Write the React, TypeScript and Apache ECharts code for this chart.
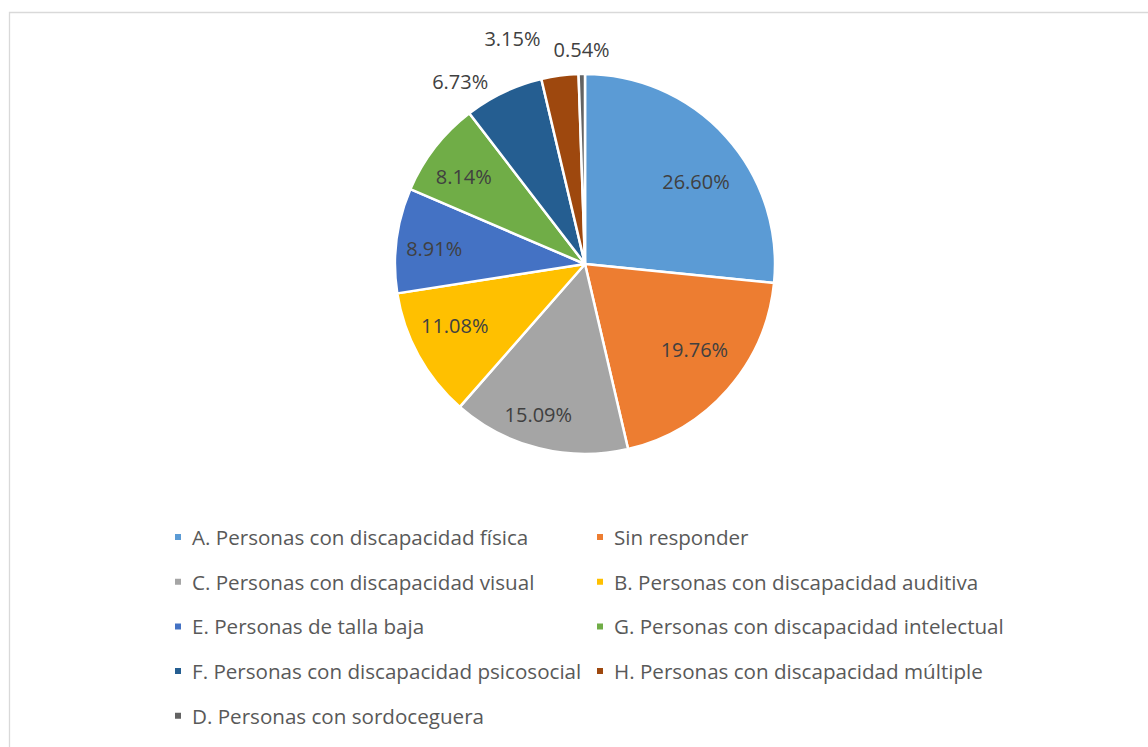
import React, { useEffect, useRef } from "react";
import * as echarts from "echarts";

const categories = [
  "A. Personas con discapacidad física",
  "Sin responder",
  "C. Personas con discapacidad visual",
  "B. Personas con discapacidad auditiva",
  "E. Personas de talla baja",
  "G. Personas con discapacidad intelectual",
  "F. Personas con discapacidad psicosocial",
  "H. Personas con discapacidad múltiple",
  "D. Personas con sordoceguera",
];
const shares = [26.6, 19.76, 15.09, 11.08, 8.91, 8.14, 6.73, 3.15, 0.54];
const colors = ["#5B9BD5", "#ED7D31", "#A5A5A5", "#FFC000", "#4472C4", "#70AD47", "#255E91", "#9E480E", "#636363"];
const outsideLabels = [false, false, false, false, false, false, true, true, true];
const leftLegend = [categories[0], categories[2], categories[4], categories[6], categories[8]];
const rightLegend = [categories[1], categories[3], categories[5], categories[7]];

const FONT = "Open Sans";
const TXT = "#404040";

export default function App() {
  const ref = useRef<HTMLDivElement>(null);
  useEffect(() => {
    const chart = echarts.init(ref.current!, null, { renderer: "svg" });
    const fmt = (p: any) => Number(p.value).toFixed(2) + "%";
    // fine label nudges (styling only)
    const innerNudge: Record<number, [number, number]> = {
      0: [-1, 19],
      1: [-4, -14],
      2: [-10, 4],
      3: [2, -11],
      4: [-1, 3],
      5: [-2, 5],
    };
    const outerNudge: Record<number, [number, number]> = {
      6: [-3, -2],
      7: [-10, -27],
      8: [36, -15],
    };
    const legendBase = {
      orient: "vertical" as const,
      top: 526,
      padding: 0,
      itemWidth: 8,
      itemHeight: 8,
      icon: "rect",
      itemGap: 22.7,
      selectedMode: false,
      textStyle: { fontFamily: FONT, fontSize: 20.6, color: "#595959", lineHeight: 22, padding: [0, 0, 0, 5] },
    };
    chart.setOption({
      animation: false,
      backgroundColor: "#ffffff",
      color: colors,
      graphic: [
        {
          type: "rect",
          shape: { x: 9.5, y: 12.5, width: 1200, height: 800 },
          style: { fill: "none", stroke: "#d9d9d9", lineWidth: 1.3 },
          silent: true,
        },
      ],
      legend: [
        { ...legendBase, left: 173, data: leftLegend },
        { ...legendBase, left: 595, data: rightLegend },
      ],
      series: [
        {
          type: "pie",
          center: [585, 264],
          radius: [0, 190],
          startAngle: 90,
          clockwise: true,
          avoidLabelOverlap: false,
          itemStyle: { borderColor: "#ffffff", borderWidth: 2.5 },
          label: {
            show: true,
            position: "outside",
            formatter: fmt,
            fontFamily: FONT,
            fontSize: 20,
            color: TXT,
          },
          labelLine: { show: false, length: 10, length2: 3 },
          labelLayout: (p: any) => {
            const n = outerNudge[p.dataIndex];
            return n ? { dx: n[0], dy: n[1] } : {};
          },
          data: categories.map((name, i) => ({
            name,
            value: shares[i],
            itemStyle: { color: colors[i] },
            label: { show: outsideLabels[i] },
          })),
        },
        {
          type: "pie",
          center: [585, 264],
          radius: [106, 190],
          startAngle: 90,
          clockwise: true,
          silent: true,
          avoidLabelOverlap: false,
          itemStyle: { color: "transparent", borderWidth: 0 },
          label: {
            show: true,
            position: "inside",
            formatter: fmt,
            fontFamily: FONT,
            fontSize: 20,
            color: TXT,
          },
          labelLine: { show: false },
          labelLayout: (p: any) => {
            const n = innerNudge[p.dataIndex];
            return n ? { dx: n[0], dy: n[1] } : {};
          },
          data: categories.map((name, i) => ({
            name,
            value: shares[i],
            label: { show: !outsideLabels[i] },
          })),
        },
      ],
    });
    return () => chart.dispose();
  }, []);
  return <div ref={ref} style={{ position: "fixed", left: 0, top: 0, width: 1148, height: 747 }} />;
}
